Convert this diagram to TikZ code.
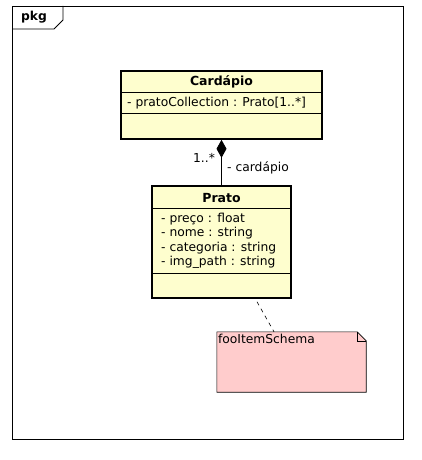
\documentclass[tikz,border=0pt]{standalone}
\usepackage{fontspec}
\setmainfont{DejaVu Sans}
\usetikzlibrary{arrows.meta,calc}
\definecolor{classfill}{HTML}{FEFECE}
\definecolor{notefill}{HTML}{FFCCCC}
\tikzset{
	classbox/.style={draw=black,line width=1.6pt,fill=classfill,inner sep=0pt},
	classtitle/.style={font=\fontsize{12.5}{14}\selectfont\bfseries,inner sep=0pt},
	attr/.style={font=\fontsize{12.3}{14}\selectfont,anchor=west,inner sep=0pt},
	lbl/.style={font=\fontsize{12.3}{14}\selectfont,inner sep=0pt},
	notebox/.style={draw=black,line width=0.6pt,fill=notefill},
}

\begin{document}
\begin{tikzpicture}[x=1pt,y=-1pt]
				%%%%% START %%%%%
				\def\framel{12}
				\def\framer{403}
				\def\framet{6}
				\def\frameb{439}
				\def\fold{9}
				\useasboundingbox (0,0) rectangle (422,460);

				% package frame
				\draw[line width=0.8pt] (\framel,\framet) rectangle (\framer,\frameb);
				\draw[line width=0.8pt] (63,\framet) -- (63,20) -- (54,29) -- (\framel,29);
				\node[lbl,font=\fontsize{12.3}{14}\selectfont\bfseries] (pkg) at (34,17) {pkg};

				% Cardapio
				\node[classbox,minimum width=201,minimum height=68] (cardapio) at (221.5,105) {};
				\node[classtitle] (cardapiotitle) at (221.5,82) {Cardápio};
				\draw[line width=0.8pt] (cardapio.west |- 0,92) -- (cardapio.east |- 0,92);
				\node[attr] (pratocoll) at (127,103) {- pratoCollection : Prato[1..*]};
				\draw[line width=0.8pt] (cardapio.west |- 0,113) -- (cardapio.east |- 0,113);

				% Prato
				\node[classbox,minimum width=139,minimum height=112] (prato) at (221.5,242) {};
				\node[classtitle] (pratotitle) at (221.5,198) {Prato};
				\draw[line width=0.8pt] (prato.west |- 0,208) -- (prato.east |- 0,208);
				\node[attr] (preco) at (161,219) {- preço : float};
				\node[attr] (nome) at (161,233.5) {- nome : string};
				\node[attr] (categoria) at (161,248) {- categoria : string};
				\node[attr] (imgpath) at (161,262.5) {- img\_path : string};
				\draw[line width=0.8pt] (prato.west |- 0,273) -- (prato.east |- 0,273);

				% composition
				\draw[line width=0.8pt,-{Diamond[length=18pt,width=10pt]}] (prato.north) -- (cardapio.south);
				\node[lbl] (mult) at (204,158) {1..*};
				\node[lbl,anchor=west] (role) at (227,168) {- cardápio};

				% note
				\node[minimum width=149,minimum height=60,inner sep=0pt] (note) at (291.5,362) {};
				\draw[notebox] (note.north west) -- ([xshift=-\fold]note.north east) -- ([yshift=-\fold]note.north east) -- (note.south east) -- (note.south west) -- cycle;
				\draw[line width=0.6pt] ([xshift=-\fold]note.north east) -- ([xshift=-\fold,yshift=-\fold]note.north east) -- ([yshift=-\fold]note.north east);
				\node[lbl,anchor=north west] (notetext) at ([xshift=1,yshift=-2]note.north west) {fooItemSchema};
				\draw[dash pattern=on 4pt off 4pt,line width=0.6pt] ([xshift=35.5,yshift=-3]prato.south) -- ([xshift=-17.5]note.north);
				%%%%% START %%%%%
			\end{tikzpicture}
\end{document}
